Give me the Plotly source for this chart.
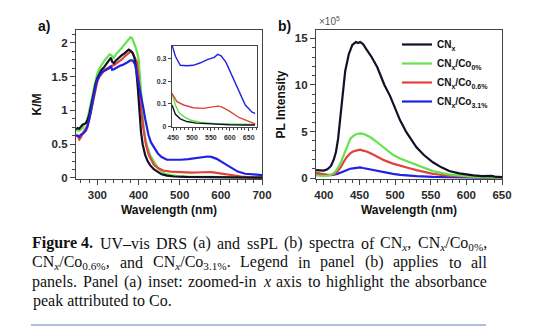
import re
import plotly.graph_objects as go

# ---------------- Panel (a): UV-vis DRS (K/M) ----------------
drs_black_x = [248,252,256,260,264,268,272,276,280,284,288,292,296,300,305,310,315,320,325,330,333,336,340,345,350,355,360,365,370,376,381,386,390,394,398,402,406,410,416,422,428,437,447,456,469,486,512,540,564,600,640,667,685,700]
drs_black_y = [0.72,0.74,0.73,0.77,0.79,0.80,0.81,0.86,0.93,1.05,1.18,1.30,1.40,1.48,1.55,1.60,1.63,1.67,1.71,1.74,1.78,1.72,1.70,1.74,1.77,1.79,1.82,1.84,1.87,1.90,1.88,1.85,1.78,1.62,1.35,0.98,0.68,0.50,0.34,0.25,0.19,0.13,0.095,0.054,0.034,0.022,0.015,0.012,0.010,0.008,0.007,0.007,0.006,0.005]

drs_green_x = [248,252,256,260,264,268,272,276,280,284,288,292,296,300,305,310,315,320,325,330,335,340,345,350,355,360,365,370,375,380,384,388,392,396,400,404,408,412,416,420,428,437,447,456,465,478,495,521,564,607,667,685,700]
drs_green_y = [0.70,0.71,0.70,0.72,0.74,0.79,0.82,0.88,0.98,1.10,1.22,1.35,1.45,1.55,1.62,1.68,1.72,1.76,1.80,1.83,1.81,1.78,1.83,1.86,1.90,1.93,1.97,2.01,2.04,2.08,2.07,2.02,1.95,1.87,1.77,1.45,1.03,0.78,0.60,0.49,0.34,0.24,0.146,0.095,0.063,0.044,0.029,0.019,0.013,0.010,0.009,0.008,0.008]

drs_red_x = [248,252,256,260,264,268,272,276,280,284,288,292,296,300,305,310,315,320,325,330,335,340,345,350,355,360,365,370,375,380,384,388,392,396,400,406,412,418,425,437,447,460,478,503,529,555,568,577,598,624,650,667,685,700]
drs_red_y = [0.64,0.62,0.57,0.60,0.66,0.70,0.73,0.78,0.86,0.97,1.10,1.23,1.34,1.43,1.50,1.55,1.58,1.61,1.63,1.65,1.66,1.67,1.69,1.71,1.73,1.76,1.79,1.82,1.85,1.87,1.86,1.82,1.78,1.72,1.50,1.03,0.72,0.49,0.34,0.20,0.146,0.11,0.095,0.083,0.080,0.085,0.090,0.088,0.069,0.040,0.022,0.012,0.009,0.008]

drs_blue_x = [248,252,256,260,264,268,272,276,280,284,288,292,296,300,305,310,315,320,325,330,333,336,340,345,350,355,360,365,370,375,380,384,388,392,396,400,404,408,412,416,420,424,430,435,440,447,456,469,486,503,521,542,559,568,577,590,607,624,641,659,667,685,700]
drs_blue_y = [0.62,0.63,0.61,0.64,0.65,0.67,0.70,0.76,0.86,0.98,1.12,1.26,1.37,1.46,1.52,1.56,1.58,1.60,1.61,1.63,1.66,1.60,1.61,1.63,1.65,1.66,1.67,1.68,1.70,1.72,1.74,1.74,1.72,1.67,1.55,1.42,1.30,1.18,1.02,0.88,0.76,0.64,0.53,0.47,0.43,0.36,0.31,0.27,0.268,0.27,0.28,0.296,0.305,0.318,0.312,0.283,0.22,0.154,0.095,0.063,0.058,0.048,0.042]

# ---------------- Panel (b): PL (x1e5) ----------------
pl_black_x = [389,395,400,405,410,414,417,420,423,426,430,435,440,445,448,451,455,460,467,475,485,493,500,507,516,530,540,553,565,576,590,600,610,622,630,635,640,650]
pl_black_y = [0.86,0.82,0.80,0.95,1.3,2.0,2.8,4.2,6.5,9.0,11.5,13.3,14.3,14.6,14.5,14.6,14.4,13.8,13.0,11.9,10.0,8.8,7.5,6.2,4.9,3.3,2.5,1.7,1.15,0.75,0.5,0.38,0.28,0.2,0.2,0.24,0.15,0.1]

pl_x = [389,395,400,405,410,415,419,424,428,432,437,441,445,451,455,460,467,474,485,497,507,520,530,553,575,600,625,650]
pl_green_y = [0.30,0.25,0.22,0.25,0.35,0.6,1.0,1.7,2.5,3.4,4.2,4.5,4.7,4.8,4.75,4.6,4.3,3.9,3.2,2.5,2.1,1.7,1.4,0.75,0.4,0.2,0.1,0.05]
pl_red_y = [0.55,0.45,0.38,0.35,0.35,0.45,0.7,1.2,1.75,2.25,2.65,2.85,2.95,3.05,2.95,2.85,2.6,2.3,1.9,1.55,1.3,1.05,0.85,0.45,0.25,0.12,0.06,0.03]
pl_blue_y = [0.50,0.42,0.35,0.3,0.3,0.35,0.45,0.6,0.75,0.88,1.0,1.05,1.1,1.15,1.08,1.0,0.9,0.8,0.6,0.45,0.35,0.25,0.2,0.12,0.08,0.05,0.03,0.02]

names = ["CN<sub>x</sub>", "CN<sub>x</sub>/Co<sub>0%</sub>", "CN<sub>x</sub>/Co<sub>0.6%</sub>", "CN<sub>x</sub>/Co<sub>3.1%</sub>"]
colors = ["#101028", "#66e24e", "#e0433a", "#1f22e0"]

a_ticks = [0, 0.5, 1, 1.5, 2]
a_ticklabels = ["0", "0.5", "1", "1.5", "2"]
a_xticks = [300, 400, 500, 600, 700]
b_xticks = [400, 450, 500, 550, 600, 650]
b_yticks = [0, 5, 10, 15]
in_xticks = [450, 500, 550, 600, 650]
in_yticks = [0, 0.1, 0.2, 0.3]

caption_lines = [
    "<b>Figure 4.</b> UV–vis DRS (a) and ssPL (b) spectra of CN<sub><i>x</i></sub>, CN<sub><i>x</i></sub>/Co<sub>0%</sub>,",
    "CN<sub><i>x</i></sub>/Co<sub>0.6%</sub>, and CN<sub><i>x</i></sub>/Co<sub>3.1%</sub>. Legend in panel (b) applies to all",
    "panels. Panel (a) inset: zoomed-in <i>x</i> axis to highlight the absorbance",
    "peak attributed to Co.",
]
caption_justify = [True, True, True, False]

W, H = 550, 334
def px(x): return x / W
def py(y): return 1 - y / H

# --- Times (Liberation Serif) advance widths, per 1000 em, for justification ---
TW = {' ':250,'(':333,')':333,',':250,'-':333,'.':250,'/':278,':':278,'%':833,'–':500,
      'A':722,'C':667,'D':722,'F':556,'L':611,'N':722,'P':556,'R':667,'S':556,'U':722,'V':722,
      'a':444,'b':500,'c':444,'d':500,'e':444,'f':333,'g':500,'h':500,'i':278,'k':500,'l':278,
      'm':778,'n':500,'o':500,'p':500,'r':333,'s':389,'t':278,'u':500,'v':500,'x':500,'y':500,'z':444}
TWB = {'F':611,'i':278,'g':500,'u':556,'r':444,'e':444,' ':250,'.':250}
def text_width(html, size):
    w = 0.0
    sub = bold = ital = False
    for tok in re.split(r'(<[^>]+>)', html):
        if tok.startswith('<'):
            tag = tok.strip('<>/').lower()
            on = not tok.startswith('</')
            if tag == 'sub': sub = on
            elif tag == 'b': bold = on
            elif tag == 'i': ital = on
            continue
        for ch in tok:
            if ch.isdigit(): cw = 500
            elif bold: cw = TWB.get(ch, TW.get(ch, 500))
            elif ital and ch == 'x': cw = 444
            else: cw = TW.get(ch, 500)
            w += cw / 1000 * size * (0.7 if sub else 1.0)
    return w

def split_words(html):
    # split on spaces that are outside tags, keeping bold group "Figure 4." together
    words, cur, depth_b = [], '', False
    i = 0
    parts = re.split(r'(<[^>]+>)', html)
    for p in parts:
        if p.startswith('<'):
            cur += p
            if p.lower() == '<b>': depth_b = True
            if p.lower() == '</b>': depth_b = False
            continue
        for ch in p:
            if ch == ' ' and not depth_b:
                if cur: words.append(cur)
                cur = ''
            else:
                cur += ch
    if cur: words.append(cur)
    return words

fig = go.Figure()

drs = [(drs_black_x, drs_black_y), (drs_green_x, drs_green_y), (drs_red_x, drs_red_y), (drs_blue_x, drs_blue_y)]
pls = [(pl_black_x, pl_black_y), (pl_x, pl_green_y), (pl_x, pl_red_y), (pl_x, pl_blue_y)]

draw_order = [1, 2, 0, 3]
for i in draw_order:
    x, y = drs[i]
    fig.add_trace(go.Scatter(x=x, y=y, mode="lines", line=dict(color=colors[i], width=2.2),
                             xaxis="x", yaxis="y", showlegend=False))
for i in draw_order:
    x, y = drs[i]
    xi = [a for a in x if 445 <= a <= 680]
    yi = [b for a, b in zip(x, y) if 445 <= a <= 680]
    fig.add_trace(go.Scatter(x=xi, y=yi, mode="lines", line=dict(color=colors[i], width=1.4),
                             xaxis="x3", yaxis="y3", showlegend=False))
for i in [3, 2, 1, 0]:
    x, y = pls[i]
    fig.add_trace(go.Scatter(x=x, y=y, mode="lines", line=dict(color=colors[i], width=2.2),
                             xaxis="x2", yaxis="y2", name=names[i], legendrank=i + 1))

tickfont = dict(family="Liberation Sans", size=11.5, color="#2a2a2a", weight="bold")
titlefont = dict(family="Liberation Sans", size=12, color="#111", weight="bold")
axcommon = dict(showgrid=False, zeroline=False, showline=True, linecolor="#444", linewidth=1.2,
                mirror=True, ticks="outside", ticklen=5, tickwidth=1.2, tickcolor="#444",
                tickfont=tickfont, automargin=False)
inset_font = dict(family="Liberation Sans", size=7, color="#333", weight="bold")

ydom = [py(179), py(30)]
fig.update_layout(
    width=W, height=H, margin=dict(l=0, r=0, t=0, b=0),
    paper_bgcolor="white", plot_bgcolor="white",
    xaxis=dict(axcommon, domain=[px(76), px(262)], range=[248, 700], tickvals=a_xticks,
               minor=dict(dtick=20, ticks="outside", ticklen=3, tickcolor="#444"),
               title=dict(text="Wavelength (nm)", font=titlefont, standoff=5), anchor="y"),
    yaxis=dict(axcommon, domain=ydom, range=[-0.015, 2.19], tickvals=a_ticks, ticktext=a_ticklabels,
               minor=dict(dtick=0.125, ticks="outside", ticklen=3, tickcolor="#444"),
               title=dict(text="K/M", font=titlefont, standoff=7), anchor="x"),
    xaxis2=dict(axcommon, domain=[px(316), px(502)], range=[389, 650], tickvals=b_xticks,
                minor=dict(dtick=10, ticks="outside", ticklen=3, tickcolor="#444"),
                title=dict(text="Wavelength (nm)", font=titlefont, standoff=5), anchor="y2"),
    yaxis2=dict(axcommon, domain=ydom, range=[-0.1, 15.9], tickvals=b_yticks,
                minor=dict(dtick=1, ticks="outside", ticklen=3, tickcolor="#444"),
                title=dict(text="PL Intensity", font=titlefont, standoff=6), anchor="x2"),
    xaxis3=dict(axcommon, domain=[px(172), px(257)], range=[447, 672], tickvals=in_xticks,
                ticklen=3, tickfont=inset_font,
                minor=dict(dtick=10, ticks="outside", ticklen=2, tickcolor="#444"), anchor="y3"),
    yaxis3=dict(axcommon, domain=[py(127), py(46)], range=[-0.002, 0.355], tickvals=in_yticks,
                ticktext=["0", "0.1", "0.2", "0.3"], ticklen=3, tickfont=inset_font, anchor="x3"),
    legend=dict(x=px(397), y=py(30), xanchor="left", yanchor="top", bgcolor="rgba(0,0,0,0)",
                font=dict(family="Liberation Sans", size=10, color="#111", weight="bold"),
                traceorder="normal", itemwidth=30, tracegroupgap=0),
    showlegend=True,
)

ann = []
ann.append(dict(text="<b>a)</b>", x=px(44), y=py(26), xref="paper", yref="paper", showarrow=False,
                xanchor="center", yanchor="middle",
                font=dict(family="Liberation Sans", size=14, color="#111")))
ann.append(dict(text="<b>b)</b>", x=px(284), y=py(26), xref="paper", yref="paper", showarrow=False,
                xanchor="center", yanchor="middle",
                font=dict(family="Liberation Sans", size=14, color="#111")))
ann.append(dict(text="×10<sup>5</sup>", x=px(317), y=py(21), xref="paper", yref="paper", showarrow=False,
                xanchor="left", yanchor="middle", font=dict(family="Liberation Sans", size=10, color="#555")))

cap_size = 16
cap_left, cap_right = 31, 486
cap_y = [243, 262, 281.5, 301]
cap_font = dict(family="Liberation Serif", size=cap_size, color="#111")
for t, yy, just in zip(caption_lines, cap_y, caption_justify):
    if not just:
        ann.append(dict(text=t, x=px(cap_left), y=py(yy), xref="paper", yref="paper", showarrow=False,
                        xanchor="left", yanchor="middle", font=cap_font))
        continue
    words = split_words(t)
    widths = [text_width(w, cap_size) for w in words]
    gap = (cap_right - cap_left - sum(widths)) / (len(words) - 1)
    xx = cap_left
    for w, ww in zip(words, widths):
        ann.append(dict(text=w, x=px(xx), y=py(yy), xref="paper", yref="paper", showarrow=False,
                        xanchor="left", yanchor="middle", font=cap_font, borderpad=0))
        xx += ww + gap
fig.update_layout(annotations=ann)
fig.add_shape(type="line", xref="paper", yref="paper", x0=px(cap_left), x1=px(cap_right),
              y0=py(325), y1=py(325), line=dict(color="#5b7fbf", width=1))

fig.write_html("out.html")
